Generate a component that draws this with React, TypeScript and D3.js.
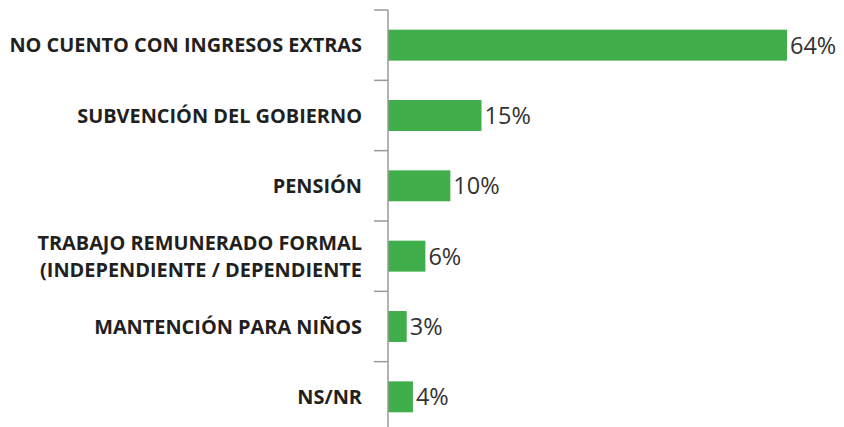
import React from "react";
import * as d3 from "d3";

const categories: string[][] = [
  ["NO CUENTO CON INGRESOS EXTRAS"],
  ["SUBVENCIÓN DEL GOBIERNO"],
  ["PENSIÓN"],
  ["TRABAJO REMUNERADO FORMAL", "(INDEPENDIENTE / DEPENDIENTE"],
  ["MANTENCIÓN PARA NIÑOS"],
  ["NS/NR"],
];
const values: number[] = [64, 15, 10, 6, 3, 4];
const valueLabels: string[] = ["64%", "15%", "10%", "6%", "3%", "4%"];

const W = 844;
const H = 427;
const AXIS_X = 388;
const TOP = 10;
const BOTTOM = 432;

export default function App() {
  const ids = categories.map((_, i) => String(i));
  const y = d3.scaleBand<string>().domain(ids).range([TOP, BOTTOM]).paddingInner(0.56).paddingOuter(0.28);
  const x = d3.scaleLinear().domain([0, 64]).range([AXIS_X, 787]);
  const step = y.step();
  const ticks = ids.map((_, i) => TOP + i * step);

  return (
    <svg width={W} height={H} style={{ position: "absolute", left: 0, top: 0, display: "block" }}>
      <rect width={W} height={H} fill="#fff" />
      {ids.map((id, i) => (
        <rect key={id} x={x(0)} y={y(id)!} width={x(values[i]) - x(0)} height={y.bandwidth()} fill="#41ae4c" />
      ))}
      <line x1={AXIS_X} x2={AXIS_X} y1={TOP} y2={BOTTOM} stroke="#9a9a9a" strokeWidth={1.5} />
      {ticks.map((t, i) => (
        <line key={i} x1={AXIS_X - 14} x2={AXIS_X} y1={t} y2={t} stroke="#9a9a9a" strokeWidth={1.5} />
      ))}
      {ids.map((id, i) => {
        const cy = y(id)! + y.bandwidth() / 2;
        const lines = categories[i];
        const lh = 27;
        return (
          <text key={id} x={362} textAnchor="end" fontFamily="'Open Sans', sans-serif" fontWeight={700} fontSize={19.9} fill="#231f20">
            {lines.map((l, j) => (
              <tspan key={j} x={362} y={cy + (j - (lines.length - 1) / 2) * lh} dy="0.36em">{l}</tspan>
            ))}
          </text>
        );
      })}
      {ids.map((id, i) => (
        <text key={id} x={x(values[i]) + 3} y={y(id)! + y.bandwidth() / 2} dy="0.36em" fontFamily="'Open Sans', sans-serif" fontSize={23.5} fill="#333">
          {valueLabels[i]}
        </text>
      ))}
    </svg>
  );
}
